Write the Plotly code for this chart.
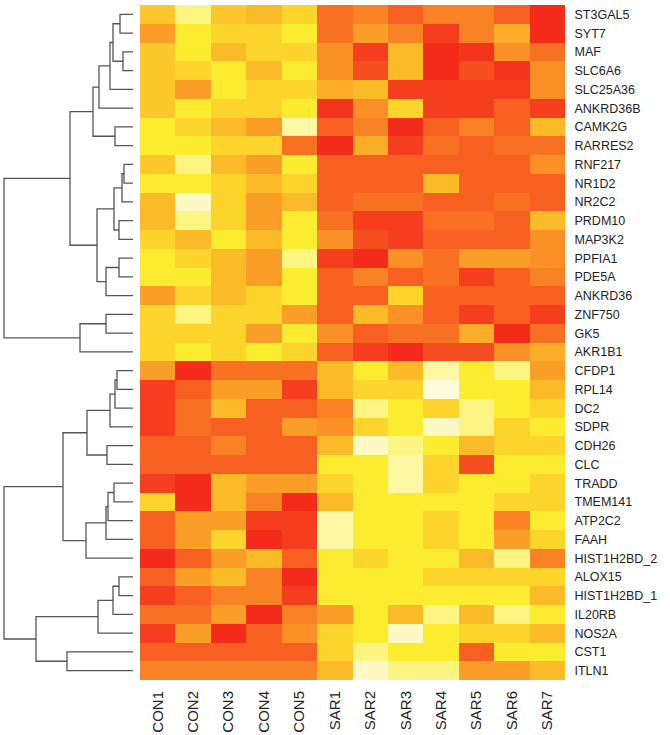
import plotly.graph_objects as go

samples = ["CON1", "CON2", "CON3", "CON4", "CON5",
           "SAR1", "SAR2", "SAR3", "SAR4", "SAR5", "SAR6", "SAR7"]

genes = ["ST3GAL5", "SYT7", "MAF", "SLC6A6", "SLC25A36", "ANKRD36B", "CAMK2G",
         "RARRES2", "RNF217", "NR1D2", "NR2C2", "PRDM10", "MAP3K2", "PPFIA1",
         "PDE5A", "ANKRD36", "ZNF750", "GK5", "AKR1B1", "CFDP1", "RPL14", "DC2",
         "SDPR", "CDH26", "CLC", "TRADD", "TMEM141", "ATP2C2", "FAAH",
         "HIST1H2BD_2", "ALOX15", "HIST1H2BD_1", "IL20RB", "NOS2A", "CST1", "ITLN1"]

expr = [
    [6.0, 8.5, 6.0, 5.5, 6.5, 3.0, 3.5, 2.5, 3.5, 3.5, 2.5, 0.5],
    [4.5, 7.5, 6.5, 6.5, 7.5, 3.0, 4.5, 3.5, 1.5, 3.5, 5.0, 0.5],
    [6.0, 7.5, 5.5, 6.5, 6.5, 4.0, 1.5, 5.5, 0.5, 1.0, 4.0, 3.0],
    [6.0, 6.5, 7.5, 5.5, 7.5, 4.0, 2.0, 5.5, 0.5, 2.0, 1.0, 4.0],
    [6.0, 4.5, 7.5, 6.5, 6.5, 5.0, 5.5, 1.5, 1.5, 1.5, 1.5, 4.0],
    [6.0, 7.5, 6.5, 6.5, 7.5, 1.0, 4.0, 6.5, 1.5, 1.5, 2.5, 1.5],
    [7.5, 6.5, 5.5, 4.5, 9.0, 2.5, 3.5, 0.5, 2.5, 3.5, 2.5, 5.5],
    [7.5, 7.5, 6.5, 6.5, 3.0, 0.5, 5.0, 1.5, 3.0, 2.5, 3.0, 3.0],
    [6.0, 8.5, 5.5, 4.5, 7.5, 2.5, 2.5, 2.5, 2.5, 2.5, 2.5, 4.0],
    [7.5, 7.5, 6.5, 5.5, 6.5, 2.5, 2.5, 2.5, 5.5, 2.5, 2.5, 2.5],
    [5.5, 9.5, 6.5, 4.5, 5.5, 2.5, 3.0, 3.0, 2.5, 2.5, 3.0, 2.5],
    [5.5, 8.5, 6.5, 4.5, 7.5, 3.0, 1.5, 1.5, 3.0, 3.0, 2.5, 5.5],
    [6.5, 5.5, 7.5, 5.5, 7.5, 4.0, 2.0, 1.5, 2.5, 2.5, 2.5, 4.0],
    [7.5, 6.5, 5.5, 4.5, 8.5, 1.5, 0.5, 4.0, 3.0, 4.5, 4.5, 4.0],
    [7.5, 7.5, 5.5, 4.5, 7.5, 2.5, 3.5, 2.5, 3.0, 1.5, 2.5, 3.5],
    [4.5, 6.5, 5.5, 6.5, 7.5, 2.5, 2.5, 6.5, 2.5, 2.5, 2.5, 2.5],
    [6.5, 8.5, 6.5, 6.5, 4.5, 2.5, 5.5, 4.0, 2.5, 1.5, 2.5, 1.5],
    [6.5, 6.5, 6.5, 4.5, 7.5, 4.0, 2.5, 3.0, 3.0, 5.0, 0.5, 3.0],
    [6.5, 7.5, 6.5, 7.5, 6.5, 2.5, 1.5, 0.5, 2.0, 2.0, 4.0, 5.0],
    [4.5, 0.5, 3.0, 3.0, 3.0, 5.5, 7.5, 5.5, 9.0, 7.5, 8.5, 4.5],
    [1.5, 2.5, 4.5, 4.5, 1.5, 5.5, 6.5, 6.5, 10.0, 7.5, 7.5, 5.5],
    [1.5, 3.0, 5.5, 2.5, 2.5, 3.5, 8.5, 7.5, 6.5, 8.5, 7.5, 6.5],
    [1.5, 3.0, 2.5, 2.5, 4.5, 4.0, 6.5, 7.5, 9.5, 8.5, 6.5, 7.5],
    [2.5, 2.5, 3.5, 2.5, 2.5, 5.5, 9.5, 8.5, 7.5, 5.5, 6.5, 6.5],
    [2.5, 2.5, 2.5, 2.5, 2.5, 7.5, 7.5, 9.0, 6.5, 2.0, 7.5, 7.5],
    [1.5, 0.5, 5.5, 4.5, 4.5, 6.5, 7.5, 9.0, 6.5, 7.5, 7.5, 6.5],
    [6.5, 0.5, 5.5, 3.5, 0.5, 5.5, 7.5, 7.5, 7.5, 7.5, 6.5, 6.5],
    [2.5, 4.5, 4.5, 1.5, 1.5, 9.0, 7.5, 7.5, 6.5, 7.5, 3.5, 7.5],
    [2.5, 4.5, 6.5, 0.5, 1.5, 9.0, 7.5, 7.5, 6.5, 7.5, 4.5, 6.5],
    [0.5, 2.5, 4.5, 5.5, 2.5, 7.5, 6.5, 7.5, 7.5, 5.5, 8.5, 3.5],
    [2.5, 4.5, 5.5, 3.5, 0.5, 7.5, 7.5, 7.5, 6.5, 6.5, 6.5, 6.5],
    [1.5, 2.5, 3.5, 3.5, 1.5, 7.5, 7.5, 7.5, 7.5, 7.5, 7.5, 5.5],
    [3.0, 3.0, 4.5, 0.5, 3.5, 4.5, 7.5, 5.5, 8.5, 5.5, 8.5, 7.5],
    [1.5, 4.5, 0.5, 2.5, 4.0, 6.5, 7.5, 9.5, 7.5, 6.5, 6.5, 5.5],
    [2.5, 2.5, 2.5, 2.5, 2.5, 6.5, 8.5, 7.5, 7.5, 2.5, 7.5, 7.5],
    [3.5, 3.5, 3.5, 3.5, 3.5, 5.5, 9.5, 8.5, 8.5, 4.5, 4.5, 5.5],
]

# row clustering: (child_a, child_b, height); ids 0..35 are genes, 36+k is merge k
merge_a = [0, 2, 36, 38, 39, 6, 40, 8, 43, 11, 44, 13, 47, 46, 42, 16, 51, 50,
           19, 54, 55, 23, 56, 25, 59, 60, 61, 58, 30, 64, 65, 34, 66, 63]
merge_b = [1, 3, 37, 4, 5, 7, 41, 9, 10, 12, 45, 14, 15, 48, 49, 17, 18, 52,
           20, 21, 22, 24, 57, 26, 27, 28, 29, 62, 31, 32, 33, 35, 67, 68]
merge_h = [13, 10, 20, 23, 34, 18, 40, 9, 11, 14, 19, 14, 27, 36, 63, 27, 53, 129,
           16, 18, 23, 26, 46, 19, 25, 27, 47, 70, 14, 20, 35, 66, 97, 129]

n_leaf = len(genes)
pos = {i: float(i) for i in range(n_leaf)}
hgt = {i: 0.0 for i in range(n_leaf)}
dx, dy = [], []
for k, (a, b, h) in enumerate(zip(merge_a, merge_b, merge_h)):
    node = n_leaf + k
    pos[node] = (pos[a] + pos[b]) / 2
    hgt[node] = h
    dx += [hgt[a], h, h, hgt[b], None]
    dy += [pos[a], pos[a], pos[b], pos[b], None]

colorscale = [
    [0.00, "rgb(243,32,26)"],
    [0.15, "rgb(245,62,30)"],
    [0.25, "rgb(247,96,32)"],
    [0.35, "rgb(249,130,36)"],
    [0.45, "rgb(250,158,40)"],
    [0.55, "rgb(251,186,40)"],
    [0.65, "rgb(252,212,44)"],
    [0.75, "rgb(252,236,48)"],
    [0.85, "rgb(253,245,130)"],
    [0.95, "rgb(254,248,196)"],
    [1.00, "rgb(255,252,222)"],
]

fig = go.Figure()
fig.add_trace(go.Heatmap(
    z=expr, x=list(range(len(samples))), y=list(range(n_leaf)),
    colorscale=colorscale, zmin=0, zmax=10, showscale=False,
    xaxis="x", yaxis="y", hoverinfo="skip"))
fig.add_trace(go.Scatter(
    x=dx, y=dy, mode="lines", line=dict(color="#555555", width=1.3),
    xaxis="x2", yaxis="y", hoverinfo="skip", showlegend=False))

W, H = 670, 735
fig.update_layout(
    template="none",
    width=W, height=H, margin=dict(l=0, r=0, t=0, b=0, autoexpand=False),
    paper_bgcolor="white", plot_bgcolor="white", showlegend=False,
    font=dict(family="Liberation Sans, Arial, sans-serif", color="#222"),
    xaxis=dict(domain=[140 / W, 565 / W], range=[-0.5, 11.5],
               tickvals=list(range(len(samples))), ticktext=samples,
               tickangle=-90, tickfont=dict(size=15), showgrid=False,
               zeroline=False, showline=False, ticks="outside", ticklen=4,
               tickcolor="rgba(0,0,0,0)", anchor="y", automargin=False),
    yaxis=dict(domain=[55 / H, 730 / H], range=[35.5, -0.5],
               tickvals=list(range(n_leaf)), ticktext=genes, side="right",
               tickfont=dict(size=12.5), showgrid=False, zeroline=False,
               showline=False, ticks="outside", ticklen=6,
               tickcolor="rgba(0,0,0,0)", anchor="x", automargin=False),
    xaxis2=dict(domain=[0, 133 / W], range=[133, 0], showgrid=False,
                zeroline=False, showline=False, showticklabels=False,
                anchor="y", automargin=False),
)

fig.write_html("out.html",
               config={"displayModeBar": False, "staticPlot": True},
               post_script="document.body.style.margin='0px';"
                           "document.body.style.overflow='hidden';")
